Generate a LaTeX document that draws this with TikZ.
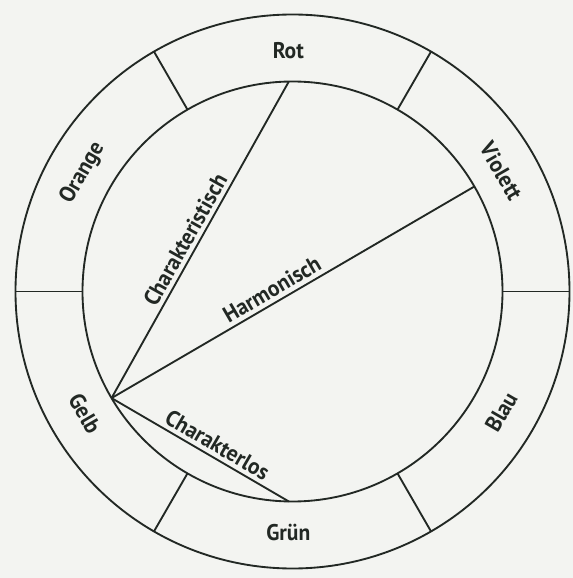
\documentclass[tikz,border=0pt]{standalone}
\usepackage{fontspec}
\setsansfont{PT Sans}[FakeStretch=0.95]
\usetikzlibrary{positioning}
\definecolor{paper}{RGB}{243,244,241}
\definecolor{ink}{RGB}{34,40,36}

\begin{document}
\begin{tikzpicture}[x=0.75pt, y=0.75pt, line width=1.4pt,
    farbe/.style={font=\sffamily\bfseries\fontsize{17}{20}\selectfont, text=ink, inner sep=1pt},
    wirkung/.style={farbe, sloped, above, inner sep=3pt}]
    % Hintergrund
    \fill[paper] (-292.5,-286.5) rectangle (280.5,291.5);
    \useasboundingbox (-292.5,-286.5) rectangle (280.5,291.5);

    % Kreisring
    \draw[ink] (0,0) circle (277);
    \draw[ink] (0,0) circle (210);

    % Trennlinien zwischen den Feldern
    \foreach \a in {0,60,...,300} {
        \draw[ink] (\a:210) -- (\a:277);
    }

    % Farbnamen im Ring
    \foreach \n/\t/\a/\r in {rot/Rot/91/0, violett/Violett/30/-60, blau/Blau/-30/60,
                             gruen/Grün/-91/0, gelb/Gelb/210.5/-60, orange/Orange/150.5/60} {
        \node[farbe, rotate=\r] (\n) at (\a:241) {\t};
    }

    % Punkte auf dem inneren Kreis
    \coordinate (pGelb) at (210.5:210);
    \coordinate (pRot) at (91:210);
    \coordinate (pViolett) at (30:210);
    \coordinate (pGruen) at (-91:210);

    % Verbindungen
    \draw[ink] (pGelb) -- node[wirkung, pos=0.48] {Charakteristisch} (pRot);
    \draw[ink] (pGelb) -- node[wirkung, pos=0.46] {Harmonisch} (pViolett);
    \draw[ink] (pGelb) -- node[wirkung, pos=0.56] {Charakterlos} (pGruen);
\end{tikzpicture}
\end{document}
